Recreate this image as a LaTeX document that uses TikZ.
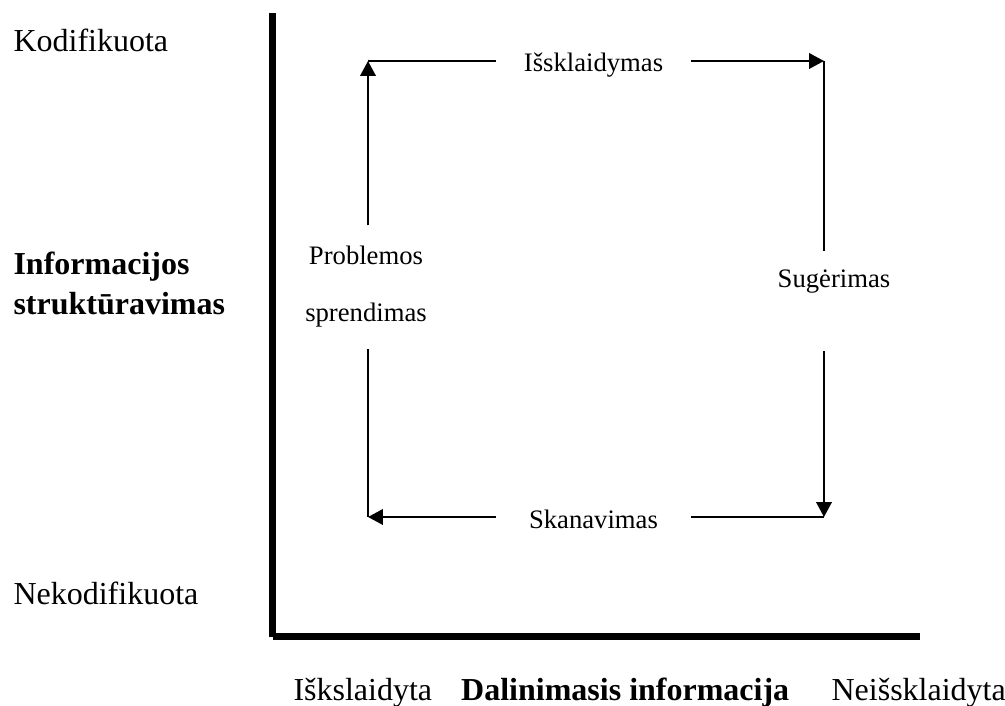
\documentclass[tikz,border=0pt]{standalone}
\usepackage{fontspec}
\setmainfont{Liberation Serif}
\usetikzlibrary{arrows.meta}
\usetikzlibrary{positioning}
\tikzstyle{axis} = [line width=2.6pt]
\tikzstyle{flow} = [line width=0.8pt]
\tikzstyle{side} = [inner sep=0pt, font=\fontsize{12}{15}\selectfont]
\tikzstyle{stage} = [inner sep=0pt, font=\fontsize{10}{12}\selectfont]

\begin{document}
\begin{tikzpicture}[x=0.375pt, y=-0.375pt, >={Triangle[length=5.6pt,width=5.8pt]}]
\useasboundingbox (0,0) rectangle (1005,706);

% Axes
\coordinate (ytop) at (272.5,13);
\coordinate (origin) at (272.5,636.5);
\coordinate (xend) at (920,636.5);
\draw [axis] (ytop) -- (origin);
\draw [axis] (origin) -- (xend);

% Axis labels
\node [side, anchor=base west] (coded) at (13,52) {Kodifikuota};
\node [side, anchor=north west, align=left, font=\bfseries\fontsize{12}{15}\selectfont] (struct) at (13,251) {Informacijos\\struktūravimas};
\node [side, anchor=base west] (uncoded) at (13,604) {Nekodifikuota};
\node [side, anchor=base west] (spread) at (293,700) {Iškslaidyta};
\node [side, base right=10.5pt of spread, font=\bfseries\fontsize{12}{15}\selectfont] (sharing) {Dalinimasis informacija};
\node [side, base right=15.5pt of sharing] (unspread) {Neišsklaidyta};

% Corners of the cycle
\coordinate (tl) at (368,61);
\coordinate (tr) at (824,61);
\coordinate (br) at (824,517);
\coordinate (bl) at (368,517);

% Stages
\node [stage, anchor=base, minimum width=72.4pt] (diffuse) at (593.5,72) {Išsklaidymas};
\node [stage, anchor=base, text height=13.5pt, text depth=23.6pt] (absorb) at (834,288) {Sugėrimas};
\node [stage, anchor=base, minimum width=72.4pt] (scan) at (593.5,528) {Skanavimas};
\node [stage, inner ysep=7.7pt, align=center, font=\fontsize{10}{21.4}\selectfont] (solve) at (366,287) {Problemos\\sprendimas};

% Cycle
\draw [flow, ->] (tl |- solve.north) -- (tl);
\draw [flow] (tl) -- (tl -| diffuse.west);
\draw [flow, ->] (diffuse.east |- tr) -- (tr);
\draw [flow] (tr) -- (tr |- absorb.north);
\draw [flow, ->] (br |- absorb.south) -- (br);
\draw [flow] (br) -- (br -| scan.east);
\draw [flow, ->] (scan.west |- bl) -- (bl);
\draw [flow] (bl) -- (bl |- solve.south);
\end{tikzpicture}
\end{document}
